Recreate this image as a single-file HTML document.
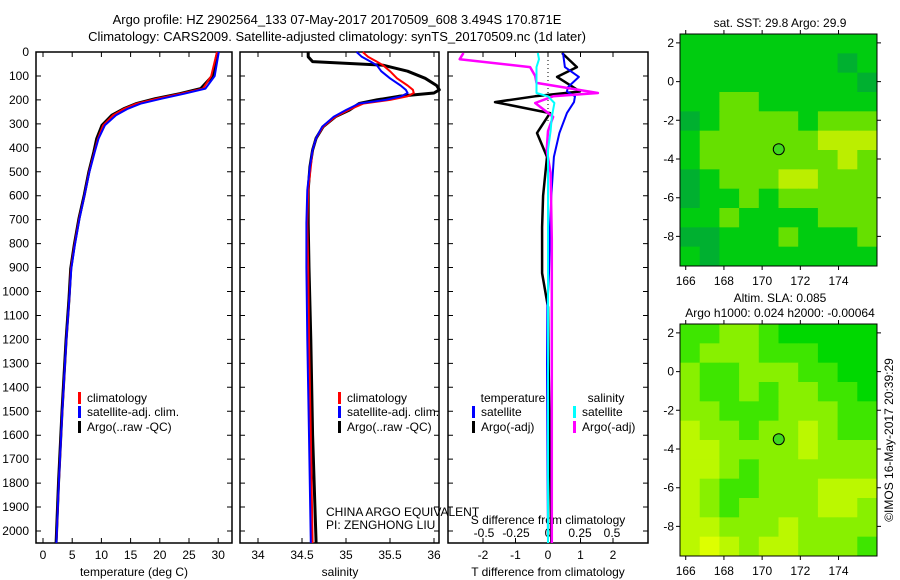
<!DOCTYPE html>
<html><head><meta charset="utf-8">
<style>
body{margin:0;background:#fff;}
svg{display:block;font-family:"Liberation Sans",sans-serif;}
text{font-size:12px;fill:#000;}
</style></head>
<body>
<svg id="c" width="900" height="580" xmlns="http://www.w3.org/2000/svg">
<text x="337" y="24" text-anchor="middle" style="font-size:13px">Argo profile: HZ 2902564_133 07-May-2017 20170509_608 3.494S 170.871E</text>
<text x="337" y="41" text-anchor="middle" style="font-size:13px">Climatology: CARS2009. Satellite-adjusted climatology: synTS_20170509.nc (1d later)</text>
</svg>
<script>
// ---------- data ----------
const depthTicks=[0,100,200,300,400,500,600,700,800,900,1000,1100,1200,1300,1400,1500,1600,1700,1800,1900,2000];
const tTicks=[0,5,10,15,20,25,30];
const sTicks=[34,34.5,35,35.5,36];
const tdTicks=[-2,-1,0,1,2];
const sdTicks=[-0.5,-0.25,0,0.25,0.5];
const tDepth=[0,100,153,174,195,216,237,264,306,362,418,501,598,696,807,905,1030,1200,1500,1800,2050];
const tClim=[29.8,28.8,27.4,23.6,19.5,16,13.9,12.0,10.3,9.4,8.8,7.9,7.1,6.2,5.4,4.8,4.5,4.0,3.3,2.7,2.3];
const tSat=[30.1,29.4,27.8,24.2,20.3,16.7,14.5,12.5,10.6,9.5,8.85,7.95,7.1,6.25,5.45,4.85,4.5,4.0,3.3,2.7,2.3];
const tArgo=[29.9,29.0,27.0,23.4,19.2,15.9,13.8,11.8,10.1,9.2,8.7,7.85,7.05,6.15,5.35,4.75,4.45,3.95,3.25,2.65,2.25];
const sDepth=[0,20,40,55,80,110,140,158,171,185,200,215,242,270,312,360,409,480,576,714,900,1200,1600,2050];
const sClim=[35.19,35.25,35.35,35.42,35.5,35.58,35.7,35.76,35.77,35.7,35.5,35.2,35.03,34.88,34.74,34.66,34.62,34.6,34.57,34.56,34.57,34.58,34.6,34.62];
const sSat=[35.12,35.18,35.28,35.35,35.4,35.5,35.62,35.68,35.7,35.63,35.45,35.15,35.0,34.86,34.73,34.66,34.62,34.59,34.56,34.55,34.55,34.56,34.58,34.6];
const sArgo=[34.57,34.57,34.62,35.42,35.7,35.9,36.03,36.06,36.0,35.6,35.35,35.15,35.04,34.88,34.74,34.66,34.62,34.59,34.57,34.57,34.58,34.6,34.62,34.66];
const dDepthT=[4,63,104,146,165,185,209,255,338,438,600,731,923,1065,1300,1600,2050];
const dTArgo=[0.43,0.89,0.28,0.77,0.98,-0.4,-1.63,0.06,-0.34,-0.03,-0.15,-0.18,-0.18,0,0.02,0.05,0.1];
const dTSat=[0.46,0.52,0.95,0.62,0.58,0.83,0.8,0.58,0.35,0.18,0.1,0.06,0.03,-0.02,-0.03,-0.02,0];
const dDepthS=[4,30,63,100,129,171,185,213,271,330,409,505,785,1200,1606,2050];
const dSArgo=[-0.66,-0.69,-0.14,-0.1,-0.09,0.39,0.04,-0.1,0.04,0.0,-0.01,0.02,0.03,0.03,0.03,0.03];
const dSSat=[-0.08,-0.07,-0.09,-0.09,-0.09,-0.09,0.0,0.05,0.03,0.02,0.0,0,0,0,0,0];
const lonTicks=[166,168,170,172,174];
const latTicks=[2,0,-2,-4,-6,-8];
const argoLon=170.871, argoLat=-3.494;
const sstGrid=[
"1111111111","1111111101","1111111110","1122111111","0122221222","1222222333",
"1222222232","0122233222","0112122222","1121111222","0011121112","1011111111"];
const slaGrid=[
"1122100000","1222111000","2112221100","2112122110","2211122211","3221223211",
"3322223222","3321222222","3211222333","3212222332","3322232222","3432332221"];
// ---------- helpers ----------
const svg=document.getElementById('c');
const NS='http://www.w3.org/2000/svg';
function el(tag,a){const e=document.createElementNS(NS,tag);for(const k in a)e.setAttribute(k,a[k]);svg.appendChild(e);return e;}
const yTop=52, pxPer100=23.95;
const yD=d=>yTop+d*pxPer100/100;
const yBot=543;
const xT=t=>43+t*5.84;
const xS=s=>258+(s-34)*88;
const xdT=t=>548+t*32.5;
const xdS=s=>548+s*128;
const panels=[[36,232],[240,439],[448,648]];
panels.forEach((p,i)=>{
  const r=el('rect',{x:p[0],y:yTop,width:p[1]-p[0],height:yBot-yTop,fill:'none',stroke:'#000','stroke-width':1.5});
  
  
  depthTicks.forEach(d=>{
    const tk=el('path',{d:`M${p[0]} ${yD(d)}h5M${p[1]} ${yD(d)}h-5`,stroke:'#000'});
    
    
  });
});
depthTicks.forEach(d=>{
  const t=el('text',{x:29,y:yD(d)+4,'text-anchor':'end'});t.textContent=d;
  
  
});
function xticks(vals,fx,ly,fmt){
  vals.forEach(v=>{
    const tk=el('path',{d:`M${fx(v)} ${yBot}v-5M${fx(v)} ${yTop}v5`,stroke:'#000'});
    
    
    const t=el('text',{x:fx(v),y:ly,'text-anchor':'middle'});t.textContent=fmt?fmt(v):v;
    
    
  });
}
xticks(tTicks,xT,559);
xticks(sTicks,xS,559);
xticks(tdTicks,xdT,559);
sdTicks.forEach(v=>{
  const t=el('text',{x:xdS(v),y:537,'text-anchor':'middle'});t.textContent=v;
  
  
});
function axTitle(x,y,s,n){const t=el('text',{x:x,y:y,'text-anchor':'middle'});t.textContent=s;
  
  }
axTitle(134,576,'temperature (deg C)','temperature-axis-title');
axTitle(340,576,'salinity','salinity-axis-title');
axTitle(548,576,'T difference from climatology','t-diff-axis-title');
axTitle(548,524,'S difference from climatology','s-diff-axis-title');
function line(xs,ds,fx,color,w,name){
  const pts=xs.map((v,i)=>fx(v).toFixed(1)+','+yD(ds[i]).toFixed(1)).join(' ');
  const l=el('polyline',{points:pts,fill:'none',stroke:color,'stroke-width':w,'stroke-linejoin':'round'});
  
  
}
const z=el('path',{d:`M548 ${yTop}V${yD(300)}`,stroke:'#000','stroke-dasharray':'1,3'});


line(tArgo,tDepth,xT,'#000',3,'temp-argo-line');
line(tClim,tDepth,xT,'#f00',2,'temp-climatology-line');
line(tSat,tDepth,xT,'#00f',2,'temp-satellite-line');
line(sArgo,sDepth,xS,'#000',3,'sal-argo-line');
line(sClim,sDepth,xS,'#f00',2,'sal-climatology-line');
line(sSat,sDepth,xS,'#00f',2,'sal-satellite-line');
line(dTArgo,dDepthT,xdT,'#000',2.5,'tdiff-argo-line');
line(dTSat,dDepthT,xdT,'#00f',2,'tdiff-satellite-line');
line(dSArgo,dDepthS,xdS,'#f0f',2.5,'sdiff-argo-line');
line(dSSat,dDepthS,xdS,'#0ff',2,'sdiff-satellite-line');
function leg(x,y,color,txt,n){
  const b=el('rect',{x:x,y:y-10,width:3,height:12,fill:color});
  
  
  const t=el('text',{x:x+9,y:y});t.textContent=txt;
  
  
}
leg(78,402,'#f00','climatology','legend-climatology');
leg(78,416,'#00f','satellite-adj. clim.','legend-satellite');
leg(78,431,'#000','Argo(..raw -QC)','legend-argo');
leg(338,402,'#f00','climatology','legend2-climatology');
leg(338,416,'#00f','satellite-adj. clim.','legend2-satellite');
leg(338,431,'#000','Argo(..raw -QC)','legend2-argo');
axTitle(513,402,'temperature','legend3-temperature-header');
axTitle(606,402,'salinity','legend3-salinity-header');
leg(472,416,'#00f','satellite','legend3-t-satellite');
leg(472,431,'#000','Argo(-adj)','legend3-t-argo');
leg(573,416,'#0ff','satellite','legend3-s-satellite');
leg(573,431,'#f0f','Argo(-adj)','legend3-s-argo');
const c1=el('text',{x:326,y:516});c1.textContent='CHINA ARGO EQUIVALENT';


const c2=el('text',{x:326,y:529});c2.textContent='PI: ZENGHONG LIU';


// ---------- maps ----------
const sstCols=['#00b030','#00cc10','#66e000','#bbee00','#ffcc00'];
const slaCols=['#00d800','#3ee600','#88f000','#bbf800','#ddff00'];
function map(y0,grid,cols,name,title){
  const x0=680,x1=877,y1=y0+232;
  const xL=lon=>x0+(lon-165.7)*19.1;
  const yL=lat=>y0+(2.46-lat)*19.35;
  const cw=(x1-x0)/grid[0].length, ch=(y1-y0)/grid.length;
  grid.forEach((row,r)=>{[...row].forEach((v,c)=>{
    const cell=el('rect',{x:x0+c*cw,y:y0+r*ch,width:cw+0.5,height:ch+0.5,fill:cols[+v]});
    
    
  });});
  const fr=el('rect',{x:x0,y:y0,width:x1-x0,height:y1-y0,fill:'none',stroke:'#000'});
  
  
  lonTicks.forEach(l=>{
    const tk=el('path',{d:`M${xL(l)} ${y1}v4M${xL(l)} ${y0}v-4`,stroke:'#000'});
    
    
    const t=el('text',{x:xL(l),y:y1+19,'text-anchor':'middle'});t.textContent=l;
    
    
  });
  latTicks.forEach(l=>{
    const tk=el('path',{d:`M${x0} ${yL(l)}h-4M${x1} ${yL(l)}h4`,stroke:'#000'});
    
    
    const t=el('text',{x:674,y:yL(l)+4,'text-anchor':'end'});t.textContent=l;
    
    
  });
  const m=el('circle',{cx:xL(argoLon),cy:yL(argoLat),r:5.5,fill:'#40d820',stroke:'#000'});
  
  
  title.forEach((s,i)=>{
    const t=el('text',{x:780,y:y0-20+i*15-(title.length-1)*15+13,'text-anchor':'middle'});t.textContent=s;
    
    
  });
}
map(34,sstGrid,sstCols,'sst-map',['sat. SST: 29.8 Argo: 29.9']);
map(324,slaGrid,slaCols,'sla-map',['Altim. SLA: 0.085','Argo h1000: 0.024 h2000: -0.00064']);
const cp=el('text',{x:0,y:0,transform:'translate(893,440) rotate(-90)','text-anchor':'middle'});
cp.textContent='©IMOS 16-May-2017 20:39:29';


</script>
</body></html>
